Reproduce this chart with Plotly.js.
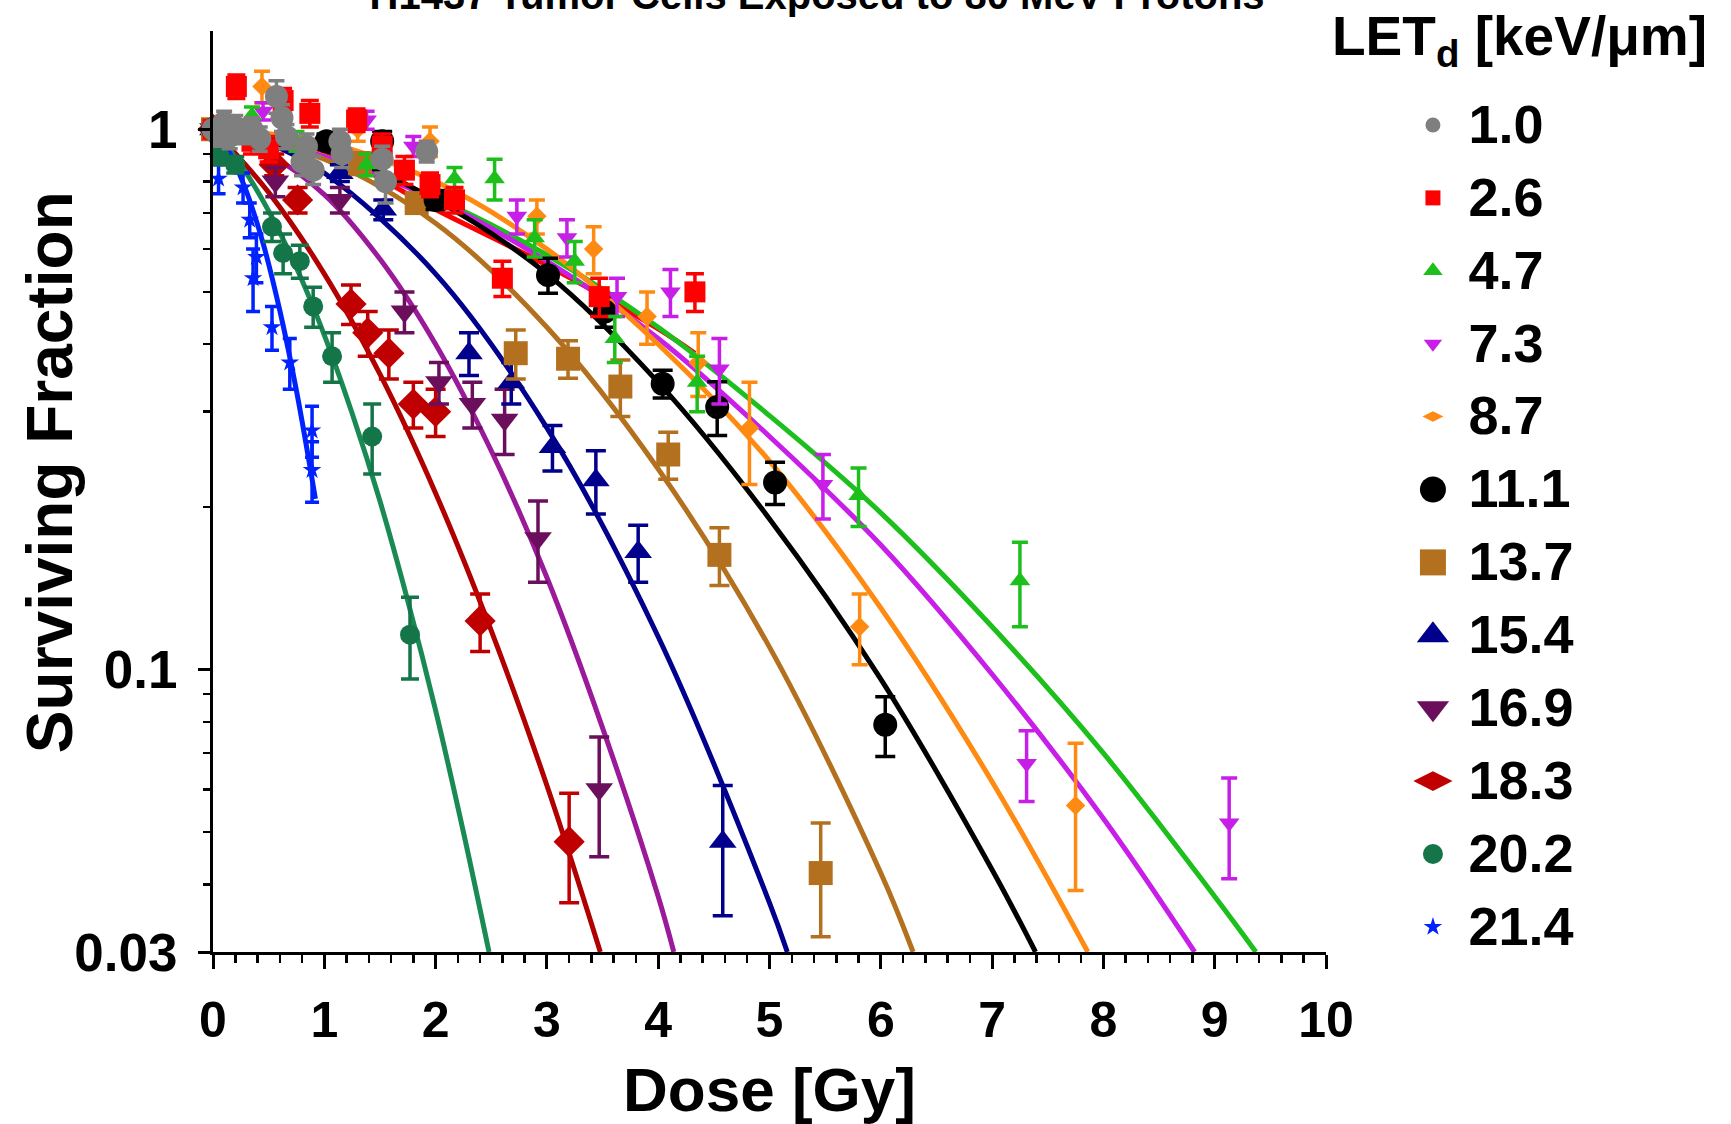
<!DOCTYPE html>
<html>
<head>
<meta charset="utf-8">
<script src="https://cdn.plot.ly/plotly-3.0.1.min.js"></script>
<style>
html,body{margin:0;padding:0;background:#ffffff;}
#chart{width:1731px;height:1124px;}
</style>
</head>
<body>
<div id="chart"></div>
<script>
// ---------- labels ----------
const chartTitle = 'H1437 Tumor Cells Exposed to 80 MeV Protons';
const xTitle = 'Dose [Gy]';
const yTitle = 'Surviving Fraction';
const legendTitle = 'LET<sub>d</sub> [keV/μm]';
const letLabels = ['1.0','2.6','4.7','7.3','8.7','11.1','13.7','15.4','16.9','18.3','20.2','21.4'];
const yTickVals = [0.03, 0.1, 1];
const yTickText = ['0.03', '0.1', '1'];
const yMinorVals = [0.04,0.05,0.06,0.07,0.08,0.09,0.2,0.3,0.4,0.5,0.6,0.7,0.8,0.9];

// ---------- measured points (dose Gy, surviving fraction, error) ----------
const dose_1_0 = [0,0.04,0.1,0.15,0.2,0.28,0.35,0.42,0.57,0.62,0.66,0.8,0.84,0.9,1.14,1.16,1.52,1.55,1.92];
const sf_1_0   = [1.0,0.98,1.03,0.97,1.01,0.99,1.0,0.96,1.15,1.05,0.97,0.87,0.93,0.84,0.95,0.9,0.88,0.8,0.91];
const err_1_0  = [0.04,0.05,0.05,0.05,0.05,0.05,0.05,0.05,0.08,0.06,0.05,0.05,0.05,0.05,0.05,0.05,0.05,0.07,0.04];

const dose_2_6 = [0,0.21,0.35,0.5,0.63,0.87,1.29,1.52,1.72,1.95,2.17,2.6,3.47,4.33];
const sf_2_6   = [1.0,1.2,0.95,0.92,1.13,1.07,1.04,0.93,0.84,0.79,0.74,0.53,0.49,0.5];
const err_2_6  = [0.03,0.06,0.05,0.05,0.06,0.06,0.05,0.05,0.05,0.04,0.04,0.04,0.04,0.04];

const dose_4_7 = [0,0.35,0.75,1.38,2.17,2.53,2.89,3.25,3.61,4.35,5.8,7.25];
const sf_4_7   = [1.0,1.06,0.95,0.86,0.81,0.81,0.63,0.57,0.41,0.34,0.21,0.146];
const err_4_7  = [0.03,0.04,0.04,0.04,0.04,0.07,0.05,0.05,0.04,0.04,0.026,0.026];

const dose_7_3 = [0,0.45,1.38,1.8,2.73,3.18,3.63,4.11,4.55,5.48,7.31,9.13];
const sf_7_3   = [1.0,1.08,1.04,0.93,0.69,0.63,0.49,0.5,0.36,0.22,0.067,0.052];
const err_7_3  = [0.03,0.04,0.04,0.04,0.05,0.05,0.04,0.05,0.05,0.03,0.01,0.011];

const dose_8_7 = [0,0.44,1.3,1.95,2.91,3.42,3.9,4.36,4.82,5.81,7.75];
const sf_8_7   = [1.0,1.2,1.0,0.95,0.69,0.6,0.45,0.37,0.28,0.12,0.056];
const err_8_7  = [0.03,0.08,0.05,0.06,0.05,0.06,0.05,0.05,0.06,0.018,0.017];

const dose_11_1 = [0,1.02,1.52,2.0,3.01,3.52,4.04,4.53,5.05,6.04];
const sf_11_1   = [1.0,0.95,0.95,0.74,0.537,0.46,0.338,0.306,0.222,0.079];
const err_11_1  = [0.02,0.03,0.04,0.03,0.04,0.03,0.02,0.035,0.02,0.01];

const dose_13_7 = [0,1.32,1.83,2.72,3.19,3.66,4.09,4.55,5.46];
const sf_13_7   = [1.0,0.865,0.73,0.385,0.376,0.334,0.25,0.163,0.042];
const err_13_7  = [0.02,0.04,0.03,0.04,0.03,0.04,0.025,0.02,0.01];

const dose_15_4 = [0,1.14,1.53,2.3,2.68,3.05,3.44,3.82,4.58];
const sf_15_4   = [1.0,0.83,0.71,0.385,0.34,0.258,0.224,0.165,0.048];
const err_15_4  = [0.02,0.03,0.03,0.035,0.03,0.025,0.03,0.02,0.013];

const dose_16_9 = [0,0.56,1.14,1.72,2.03,2.33,2.62,2.92,3.47];
const sf_16_9   = [1.0,0.8,0.74,0.46,0.34,0.31,0.29,0.175,0.06];
const err_16_9  = [0.02,0.05,0.04,0.04,0.03,0.03,0.04,0.03,0.015];

const dose_18_3 = [0,0.55,0.76,1.24,1.39,1.58,1.8,2.0,2.4,3.2];
const sf_18_3   = [1.0,0.86,0.74,0.475,0.42,0.385,0.31,0.3,0.123,0.048];
const err_18_3  = [0.02,0.04,0.04,0.04,0.04,0.04,0.03,0.03,0.015,0.011];

const dose_20_2 = [0,0.06,0.2,0.53,0.63,0.78,0.9,1.07,1.43,1.77];
const sf_20_2   = [1.0,0.89,0.86,0.66,0.59,0.57,0.47,0.38,0.27,0.116];
const err_20_2  = [0.03,0.03,0.03,0.04,0.05,0.04,0.04,0.04,0.04,0.02];

const dose_21_4 = [0,0.05,0.27,0.33,0.36,0.39,0.53,0.69,0.89,0.89];
const sf_21_4   = [1.0,0.81,0.78,0.68,0.53,0.58,0.43,0.37,0.277,0.234];
const err_21_4  = [0.03,0.05,0.05,0.05,0.07,0.06,0.04,0.04,0.03,0.03];

// ---------- fitted curves ----------
const fitDose_2_6 = [0,1,2,3,4,4.33];
const fitSf_2_6   = [1,0.91,0.71,0.56,0.427,0.385];
const fitDose_4_7 = [0,1,2,3,4,5,6,7,8,9,9.37];
const fitSf_4_7   = [1,0.89,0.745,0.585,0.43,0.295,0.195,0.12,0.07,0.038,0.03];
const fitDose_7_3 = [0,1,2,3,4,5,6,7,8,8.82];
const fitSf_7_3   = [1,0.89,0.74,0.57,0.41,0.27,0.17,0.098,0.053,0.03];
const fitDose_8_7 = [0,1,2,3,4,5,6,7,7.86];
const fitSf_8_7   = [1,0.946,0.80,0.60,0.40,0.243,0.13,0.062,0.03];
const fitDose_11_1 = [0,1,2,3,4,5,6,7,7.39];
const fitSf_11_1   = [1,0.915,0.74,0.54,0.34,0.19,0.096,0.0426,0.03];
const fitDose_13_7 = [0,1,2,3,4,5,6,6.29];
const fitSf_13_7   = [1,0.88,0.67,0.43,0.235,0.11,0.042,0.03];
const fitDose_15_4 = [0,0.5,1,2,3,4,5,5.16];
const fitSf_15_4   = [1,0.94,0.83,0.54,0.28,0.115,0.037,0.03];
const fitDose_16_9 = [0,0.5,1,1.5,2,2.5,3,3.5,4,4.14];
const fitSf_16_9   = [1,0.9,0.757,0.575,0.40,0.254,0.148,0.078,0.038,0.03];
const fitDose_18_3 = [0,0.5,1,1.5,2,2.5,3,3.48];
const fitSf_18_3   = [1,0.764,0.54,0.352,0.212,0.118,0.061,0.03];
const fitDose_20_2 = [0,0.25,0.5,0.75,1,1.25,1.5,1.75,2,2.25,2.48];
const fitSf_20_2   = [1,0.859,0.706,0.554,0.416,0.298,0.205,0.134,0.084,0.05,0.03];
const fitDose_21_4 = [0,0.15,0.3,0.45,0.6,0.75,0.92];
const fitSf_21_4   = [1,0.904,0.767,0.615,0.462,0.328,0.207];

// ---------- styles ----------
const markerColors = ['#7f7f7f','#ff0000','#1dbf1d','#c71fe8','#ff8a12','#000000','#b3711f','#00008c','#6b0f5c','#c00000','#137548','#0022ff'];
const lineColors   = ['#7f7f7f','#ff0000','#1dbf1d','#c71fe8','#ff8a12','#000000','#b3711f','#00008c','#9a1a9a','#b00000','#1a8a55','#0022ff'];
const symbols      = ['circle','square','triangle-up','triangle-down','diamond','circle','square','triangle-up','triangle-down','diamond','circle','star'];
const legendSymbols= ['circle','square','triangle-up','triangle-down','diamond-wide','circle','square','triangle-up','triangle-down','diamond-wide','circle','star'];
const markerSizes  = [23,21,18,18,15,24,24,24,24,24,20,14];
const legendSizes  = [15,15,17,16,15,26,26,28,28,28,20,14];
const capWidths    = [8,9,8,8,8,10,10,10,10,10,9,7];

const doses = [dose_1_0,dose_2_6,dose_4_7,dose_7_3,dose_8_7,dose_11_1,dose_13_7,dose_15_4,dose_16_9,dose_18_3,dose_20_2,dose_21_4];
const sfs   = [sf_1_0,sf_2_6,sf_4_7,sf_7_3,sf_8_7,sf_11_1,sf_13_7,sf_15_4,sf_16_9,sf_18_3,sf_20_2,sf_21_4];
const errs  = [err_1_0,err_2_6,err_4_7,err_7_3,err_8_7,err_11_1,err_13_7,err_15_4,err_16_9,err_18_3,err_20_2,err_21_4];
const fitDoses = [null,fitDose_2_6,fitDose_4_7,fitDose_7_3,fitDose_8_7,fitDose_11_1,fitDose_13_7,fitDose_15_4,fitDose_16_9,fitDose_18_3,fitDose_20_2,fitDose_21_4];
const fitSfs   = [null,fitSf_2_6,fitSf_4_7,fitSf_7_3,fitSf_8_7,fitSf_11_1,fitSf_13_7,fitSf_15_4,fitSf_16_9,fitSf_18_3,fitSf_20_2,fitSf_21_4];

const FONT = 'Liberation Sans, Arial, Helvetica, sans-serif';
const traces = [];

// fitted curves first
letLabels.forEach((lab, i) => {
  if (!fitDoses[i]) return;
  traces.push({
    type: 'scatter', mode: 'lines', x: fitDoses[i], y: fitSfs[i],
    line: {color: lineColors[i], width: 5, shape: 'spline'},
    cliponaxis: false, hoverinfo: 'skip', name: lab + ' fit', xaxis: 'x', yaxis: 'y'
  });
});
// measured points, highest LET first so the low-LET points sit on top
for (let i = letLabels.length - 1; i >= 0; i--) {
  traces.push({
    type: 'scatter', mode: 'markers', x: doses[i], y: sfs[i], name: letLabels[i],
    marker: {color: markerColors[i], symbol: symbols[i], size: markerSizes[i], opacity: 1, line: {width: 0}},
    error_y: {type: 'data', array: errs[i], visible: true, color: markerColors[i], thickness: 3.5, width: capWidths[i]},
    cliponaxis: false, xaxis: 'x', yaxis: 'y'
  });
}
// hand-made legend on its own hidden axes
const legendIdx = letLabels.map((_, i) => i);
traces.push({
  type: 'scatter', mode: 'markers', x: letLabels.map(() => 0.23), y: legendIdx,
  marker: {color: markerColors, symbol: legendSymbols, size: legendSizes, opacity: 1, line: {width: 0}},
  xaxis: 'x2', yaxis: 'y2', hoverinfo: 'skip', cliponaxis: false
});
traces.push({
  type: 'scatter', mode: 'text', x: letLabels.map(() => 0.322), y: legendIdx, text: letLabels,
  textposition: 'middle right', textfont: {family: FONT, size: 54, color: '#000', weight: 'bold'},
  xaxis: 'x2', yaxis: 'y3', hoverinfo: 'skip', cliponaxis: false
});

const layout = {
  width: 1731, height: 1124,
  margin: {l: 213, r: 0, t: 31, b: 172},
  paper_bgcolor: '#ffffff', plot_bgcolor: '#ffffff',
  showlegend: false,
  font: {family: FONT, color: '#000000', weight: 'bold'},
  title: {
    text: chartTitle, x: 0.472, xanchor: 'center', xref: 'container',
    y: 0.992, yanchor: 'bottom', yref: 'container',
    font: {family: FONT, size: 40, weight: 'bold', color: '#000'}
  },
  xaxis: {
    domain: [0, 0.7332], range: [0, 10], anchor: 'y',
    tickmode: 'linear', tick0: 0, dtick: 1,
    ticks: 'outside', ticklen: 14, tickwidth: 3, tickcolor: '#000',
    showline: true, linewidth: 3, linecolor: '#000', mirror: false,
    showgrid: false, zeroline: false,
    tickfont: {family: FONT, size: 50, weight: 'bold', color: '#000'},
    ticklabelstandoff: 8,
    minor: {dtick: 0.2, tick0: 0, ticks: 'outside', ticklen: 8, tickwidth: 2.5, tickcolor: '#000', showgrid: false},
    title: {text: xTitle, font: {family: FONT, size: 62, weight: 'bold', color: '#000'}, standoff: 22}
  },
  yaxis: {
    type: 'log', range: [Math.log10(0.03), Math.log10(1.52)], anchor: 'x',
    tickmode: 'array', tickvals: yTickVals, ticktext: yTickText,
    ticks: 'outside', ticklen: 12, tickwidth: 3, tickcolor: '#000',
    showline: true, linewidth: 3, linecolor: '#000',
    showgrid: false, zeroline: false,
    tickfont: {family: FONT, size: 53, weight: 'bold', color: '#000'},
    ticklabelstandoff: 10,
    minor: {tickmode: 'array', tickvals: yMinorVals, ticks: 'outside', ticklen: 7, tickwidth: 2.5, tickcolor: '#000', showgrid: false}
  },
  xaxis2: {domain: [0.745, 1], range: [0, 1], visible: false, anchor: 'y2', fixedrange: true},
  yaxis2: {domain: [0, 1], range: [11.344, -1.289], visible: false, anchor: 'x2', fixedrange: true},
  yaxis3: {domain: [0, 1], range: [11.284, -1.349], visible: false, anchor: 'x2', overlaying: 'y2', fixedrange: true},
  annotations: [
    {
      text: legendTitle, xref: 'paper', yref: 'paper', x: 0.861, y: 0.99,
      xanchor: 'center', yanchor: 'middle', showarrow: false,
      font: {family: FONT, size: 55, weight: 'bold', color: '#000'}
    },
    {
      text: yTitle, xref: 'paper', yref: 'paper', x: -0.1074, y: 0.521,
      xanchor: 'center', yanchor: 'middle', textangle: -90, showarrow: false,
      font: {family: FONT, size: 64, weight: 'bold', color: '#000'}
    }
  ]
};

Plotly.newPlot('chart', traces, layout, {displayModeBar: false, staticPlot: true});
</script>
</body>
</html>
